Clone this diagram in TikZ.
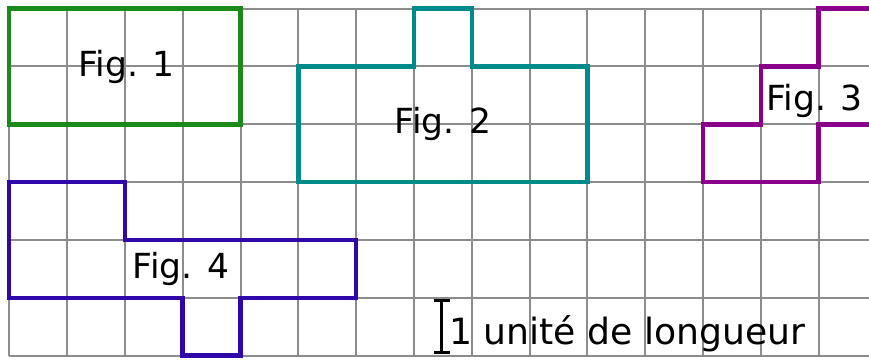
\documentclass[tikz,border=0pt]{standalone}
\usepackage{fontspec}
\setmainfont{DejaVu Sans}
\usetikzlibrary{arrows.meta}

\definecolor{verde}{RGB}{26,138,26}
\definecolor{ciano}{RGB}{0,139,139}
\definecolor{viola}{RGB}{139,0,139}
\definecolor{blu}{RGB}{48,8,170}

\tikzset{
  figura/.style={line width=2.2pt},
  etichetta/.style={font=\fontsize{17}{20}\selectfont, inner sep=0pt}
}

\begin{document}
\begin{tikzpicture}
        \clip (-0.16,-0.06) rectangle (14.87,6.15);

        % Disegna la griglia
        \draw[line width=1pt, gray!90] (0,0) grid (16,6);

        % Fig. 1
        \draw[figura, verde] (0,4) rectangle (4,6);
        \node[etichetta] (fig1) at (2.03,5) {Fig. 1};

        % Fig. 2
        \draw[figura, ciano] (5,3) -- (5,5) -- (7,5) -- (7,6) -- (8,6) -- (8,5)
            -- (10,5) -- (10,3) -- cycle;
        \node[etichetta] (fig2) at (7.5,4) {Fig. 2};

        % Fig. 3
        \draw[figura, viola] (16,6) -- (14,6) -- (14,5) -- (13,5) -- (13,4)
            -- (12,4) -- (12,3) -- (14,3) -- (14,4) -- (16,4);
        \node[etichetta] (fig3) at (13.93,4.4) {Fig. 3};

        % Fig. 4
        \draw[figura, blu] (0,3) -- (2,3) -- (2,2) -- (6,2) -- (6,1) -- (4,1)
            -- (4,0) -- (3,0) -- (3,1) -- (0,1) -- cycle;
        \node[etichetta] (fig4) at (2.97,1.5) {Fig. 4};

        % Unita di lunghezza
        \coordinate (u0) at (7.48,0.02);
        \coordinate (u1) at (7.48,0.98);
        \draw[line width=1.5pt, {Bar[width=8pt]}-{Bar[width=8pt]}] (u0) -- (u1);
        \node[etichetta, font=\fontsize{17.8}{20}\selectfont, anchor=base west]
            (unita) at (7.6,0.2) {1 unité de longueur};
    \end{tikzpicture}
\end{document}
